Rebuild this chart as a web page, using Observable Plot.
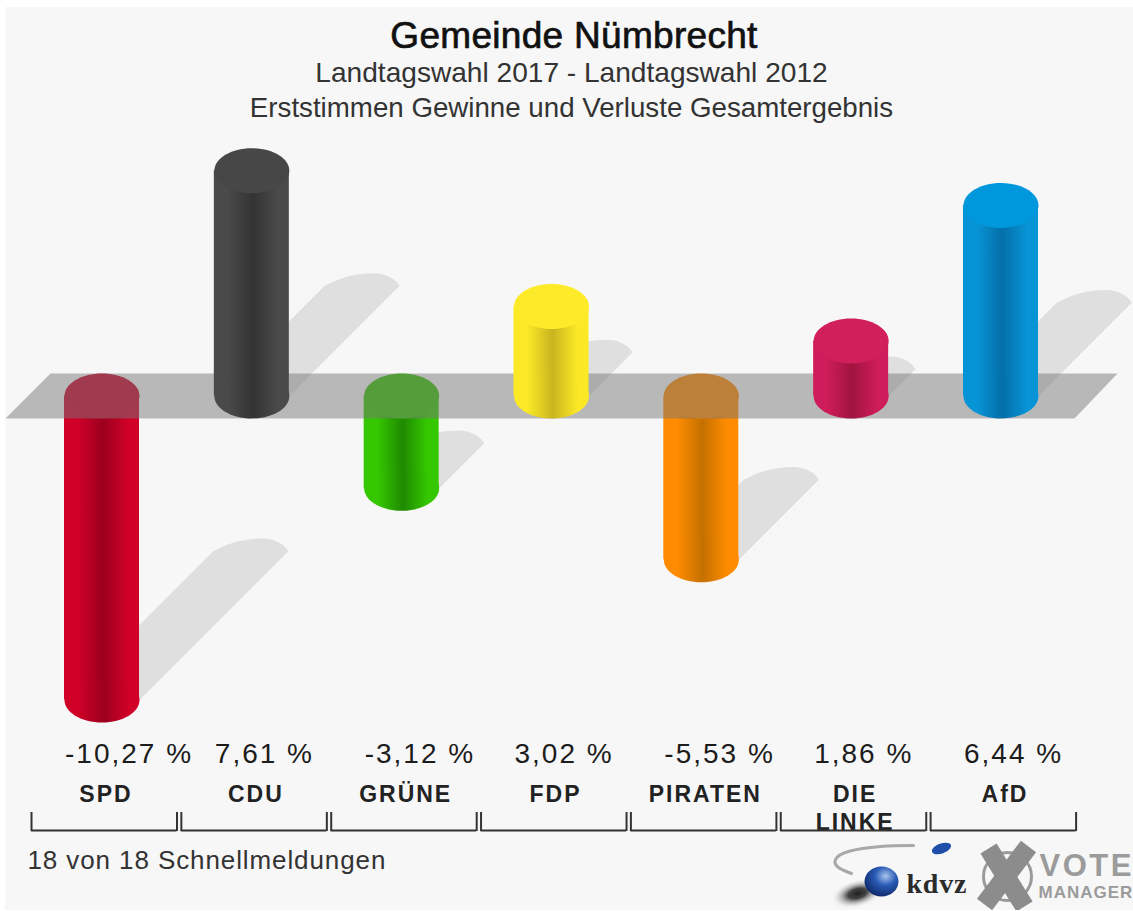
<!DOCTYPE html>
<html lang="de">
<head>
<meta charset="utf-8">
<script src="https://cdn.jsdelivr.net/npm/d3@7"></script>
<script src="https://cdn.jsdelivr.net/npm/@observablehq/plot@0.6"></script>
<style>
  html, body { margin: 0; padding: 0; background: #fff; overflow: hidden; }
  #page { position: absolute; left: 5px; top: 7px; width: 1128px; height: 903px; background: #f7f7f7; font-family: "Liberation Sans", sans-serif; }
  #head { position: relative; height: 123px; width: 1128px; }
  #head div { position: absolute; width: 1138px; text-align: center; white-space: nowrap; }
  #t1 { left: 0; top: 7px; font-size: 37px; line-height: 44px; color: #111; -webkit-text-stroke: 0.7px #111; letter-spacing: 0.3px; }
  #t2 { left: -2.5px; top: 49px; font-size: 28.1px; line-height: 34px; color: #333; }
  #t3 { left: -2.5px; top: 84px; font-size: 27.7px; line-height: 34px; color: #333; }
  #chart svg { display: block; }
</style>
</head>
<body>
<div id="page">
  <div id="head">
    <div id="t1">Gemeinde Nümbrecht</div>
    <div id="t2">Landtagswahl 2017 - Landtagswahl 2012</div>
    <div id="t3">Erststimmen Gewinne und Verluste Gesamtergebnis</div>
  </div>
  <div id="chart"></div>
</div>
<script>
// Data
const parties = ["SPD", "CDU", "GRÜNE", "FDP", "PIRATEN", "DIE\nLINKE", "AfD"];
const changes = [-10.27, 7.61, -3.12, 3.02, -5.53, 1.86, 6.44];
const valueLabels = ["-10,27 %", "7,61 %", "-3,12 %", "3,02 %", "-5,53 %", "1,86 %", "6,44 %"];
const capColors = ["#c8002a", "#474747", "#33c200", "#fdea28", "#ff8a00", "#d11f5c", "#0098dd"];
const edgeColors = ["#d00028", "#4a4a4a", "#35c800", "#fbe926", "#ff8c00", "#cf1c5a", "#0794d6"];
const coreColors = ["#9c001e", "#333333", "#1f8a00", "#c9b520", "#c47000", "#a0143f", "#046fa8"];
const caption = "18 von 18 Schnellmeldungen";

// Page pixels <-> scale units
const W = 1128, H = 780, originTop = 130, originLeft = 5;
const slot = 149.83, firstCentre = 101.5, zeroY = 395.5, unit = 29.6;
const X = px => (px - firstCentre) / slot;
const Y = py => (zeroY - py) / unit;
const halfBar = 37.5 / slot;
const shadowPx = 14.5;
const shadowDx = shadowPx / slot, shadowDy = shadowPx / unit;

const rows = parties.map((party, i) => ({party, i, value: changes[i], label: valueLabels[i],
  cap: capColors[i], grad: `url(#bar${i})`}));
const negative = rows.filter(d => d.value < 0);
const positive = rows.filter(d => d.value >= 0);

// Shadows grow from the lower end of each column
const shadowBase = d => Math.min(d.value, 0);
const shadowTip = d => ({x: d.i + Math.abs(d.value) * shadowDx, y: shadowBase(d) + Math.abs(d.value) * shadowDy});
const shadowPoly = rows.flatMap(d => {
  const t = shadowTip(d), b = shadowBase(d);
  return [
    {party: d.party, x: d.i - halfBar, y: b},
    {party: d.party, x: t.x - halfBar, y: t.y},
    {party: d.party, x: t.x + halfBar, y: t.y},
    {party: d.party, x: d.i + halfBar, y: b}
  ];
});
const shadowTips = rows.map(shadowTip);

const bandPoly = [[5, 418], [50, 373], [1117, 373], [1074, 418]].map(([a, b]) => ({x: X(a), y: Y(b)}));

// Ellipse symbols
const k = 0.5523;
const ellipse = (rx, ry) => ({draw(c) {
  c.moveTo(-rx, 0);
  c.bezierCurveTo(-rx, -k * ry, -k * rx, -ry, 0, -ry);
  c.bezierCurveTo(k * rx, -ry, rx, -k * ry, rx, 0);
  c.bezierCurveTo(rx, k * ry, k * rx, ry, 0, ry);
  c.bezierCurveTo(-k * rx, ry, -rx, k * ry, -rx, 0);
  c.closePath();
}});
// The far end of a shadow: a flattened, skewed cap
const shadowCap = {draw(c) {
  c.moveTo(-37.5, 0.5);
  c.bezierCurveTo(-24, -8, -6, -12.5, 12, -12.5);
  c.bezierCurveTo(24, -12.5, 33, -7, 37.5, 0.5);
  c.closePath();
}};
const cap = ellipse(37.5, 22.5);

// Letter spacing of a text mark (the reference text is set wide)
const spaced = px => (i, s, v, d, c, next) => {
  const g = next(i, s, v, d, c);
  g.setAttribute("letter-spacing", px);
  return g;
};

// Gradient definitions
const defs = () => {
  const d = d3.create("svg:defs");
  rows.forEach((r, i) => {
    const g = d.append("linearGradient").attr("id", `bar${i}`);
    g.append("stop").attr("offset", "0%").attr("stop-color", edgeColors[i]);
    g.append("stop").attr("offset", "18%").attr("stop-color", edgeColors[i]);
    g.append("stop").attr("offset", "52%").attr("stop-color", coreColors[i]);
    g.append("stop").attr("offset", "85%").attr("stop-color", edgeColors[i]);
    g.append("stop").attr("offset", "100%").attr("stop-color", edgeColors[i]);
  });
  const s = d.append("radialGradient").attr("id", "ball").attr("cx", "62%").attr("cy", "32%").attr("r", "70%");
  s.append("stop").attr("offset", "0%").attr("stop-color", "#a9c4ee");
  s.append("stop").attr("offset", "45%").attr("stop-color", "#2a5bb5");
  s.append("stop").attr("offset", "100%").attr("stop-color", "#0f2a6b");
  const h = d.append("radialGradient").attr("id", "ballShade");
  h.append("stop").attr("offset", "0%").attr("stop-color", "#222");
  h.append("stop").attr("offset", "35%").attr("stop-color", "#444");
  h.append("stop").attr("offset", "100%").attr("stop-color", "#f7f7f7").attr("stop-opacity", 0);
  return d.node();
};

const font = "Liberation Sans";
const columnMarks = data => [
  Plot.rect(data, {x1: d => d.i - halfBar, x2: d => d.i + halfBar, y1: 0, y2: "value", fill: {value: d => d.grad, scale: null}}),
  // lower end cap
  Plot.dot(data, {x: "i", y: d => Math.min(d.value, 0), symbol: cap, r: 30, fill: {value: d => d.grad, scale: null}}),
  // upper end cap
  Plot.dot(data, {x: "i", y: d => Math.max(d.value, 0), symbol: cap, r: 30, fill: {value: d => d.cap, scale: null}})
];

const brackets = rows.map(d => d.i);
const bL = i => X(31 + 149.85 * i), bR = i => X(176.5 + 149.85 * i);

const plot = Plot.plot({
  width: W, height: H,
  marginTop: 0, marginRight: 0, marginBottom: 0, marginLeft: 0,
  style: {background: "transparent", overflow: "hidden"},
  x: {type: "linear", domain: [X(originLeft), X(originLeft + W)], range: [0, W], axis: null},
  y: {type: "linear", domain: [Y(originTop + H), Y(originTop)], range: [H, 0], axis: null},
  marks: [
    defs,
    // shadows
    Plot.line(shadowPoly, {x: "x", y: "y", z: "party", fill: "#dfdfdf", stroke: "none", curve: "linear-closed"}),
    Plot.dot(shadowTips, {x: "x", y: "y", symbol: shadowCap, r: 30, fill: "#dfdfdf"}),
    // falling columns sit behind the translucent plane
    columnMarks(negative),
    Plot.line(bandPoly, {x: "x", y: "y", fill: "#767676", fillOpacity: 0.49, stroke: "none", curve: "linear-closed"}),
    columnMarks(positive),
    // value and party labels
    Plot.text(rows, {x: d => d.i - 37 / slot, y: Y(762), text: "label", textAnchor: "start", lineAnchor: "bottom", fontSize: 28, fontFamily: font, fill: "#1c1c1c", render: spaced("2px")}),
    Plot.text(rows, {x: d => d.i + 4 / slot, y: Y(781.5), text: "party", textAnchor: "middle", lineAnchor: "top", lineHeight: 1.22, fontSize: 23, fontWeight: "bold", fontFamily: font, fill: "#222", render: spaced("2px")}),
    // brackets
    Plot.ruleY(brackets, {x1: bL, x2: bR, y: Y(830), stroke: "#333", strokeWidth: 2}),
    Plot.ruleX(brackets, {x: bL, y1: Y(812), y2: Y(831), stroke: "#333", strokeWidth: 2}),
    Plot.ruleX(brackets, {x: bR, y1: Y(812), y2: Y(831), stroke: "#333", strokeWidth: 2}),
    Plot.text([caption], {x: X(27), y: Y(868), text: d => d, textAnchor: "start", lineAnchor: "bottom", fontSize: 26, fontFamily: font, fill: "#333", render: spaced("0.9px")}),
    // kdvz logo
    Plot.line([[913, 845], [880, 846], [848, 851], [835, 859], [838, 867], [851, 873]].map(([a, b]) => ({x: X(a), y: Y(b)})),
      {x: "x", y: "y", curve: "natural", stroke: "#a8a8a8", strokeWidth: 3, strokeLinecap: "round"}),
    Plot.dot([{x: X(941), y: Y(848)}], {x: "x", y: "y", symbol: ellipse(10, 5), r: 30, fill: "#1f4fa8", rotate: -20}),
    Plot.dot([{x: X(857), y: Y(893)}], {x: "x", y: "y", symbol: ellipse(27, 14), r: 30, fill: "url(#ballShade)", rotate: -15}),
    Plot.dot([{x: X(881), y: Y(881)}], {x: "x", y: "y", symbol: ellipse(17, 15), r: 30, fill: "url(#ball)"}),
    Plot.text(["kdvz"], {x: X(906), y: Y(892), text: d => d, textAnchor: "start", lineAnchor: "bottom", fontSize: 28, fontWeight: "bold", fontFamily: "Liberation Serif", fill: "#2b2b2b", render: spaced("0.8px")}),
    // vote manager logo
    Plot.dot([{x: X(1007), y: Y(876)}], {x: "x", y: "y", r: 24, fill: "none", stroke: "#9a9a9a", strokeWidth: 3}),
    Plot.link([[[988, 848], [1024, 906]], [[1028, 846], [984, 904]]].map(([[a, b], [c, e]]) => ({x1: X(a), y1: Y(b), x2: X(c), y2: Y(e)})),
      {x1: "x1", y1: "y1", x2: "x2", y2: "y2", stroke: "#8c8c8c", strokeWidth: 19}),
    Plot.text(["VOTE"], {x: X(1039), y: Y(875), text: d => d, textAnchor: "start", lineAnchor: "bottom", fontSize: 31, fontWeight: "bold", fontFamily: font, fill: "#9b9b9b", render: spaced("2.5px")}),
    Plot.text(["MANAGER"], {x: X(1038), y: Y(897), text: d => d, textAnchor: "start", lineAnchor: "bottom", fontSize: 17, fontWeight: "bold", fontFamily: font, fill: "#9b9b9b", render: spaced("1px")})
  ]
});
document.getElementById("chart").append(plot);
</script>
</body>
</html>
